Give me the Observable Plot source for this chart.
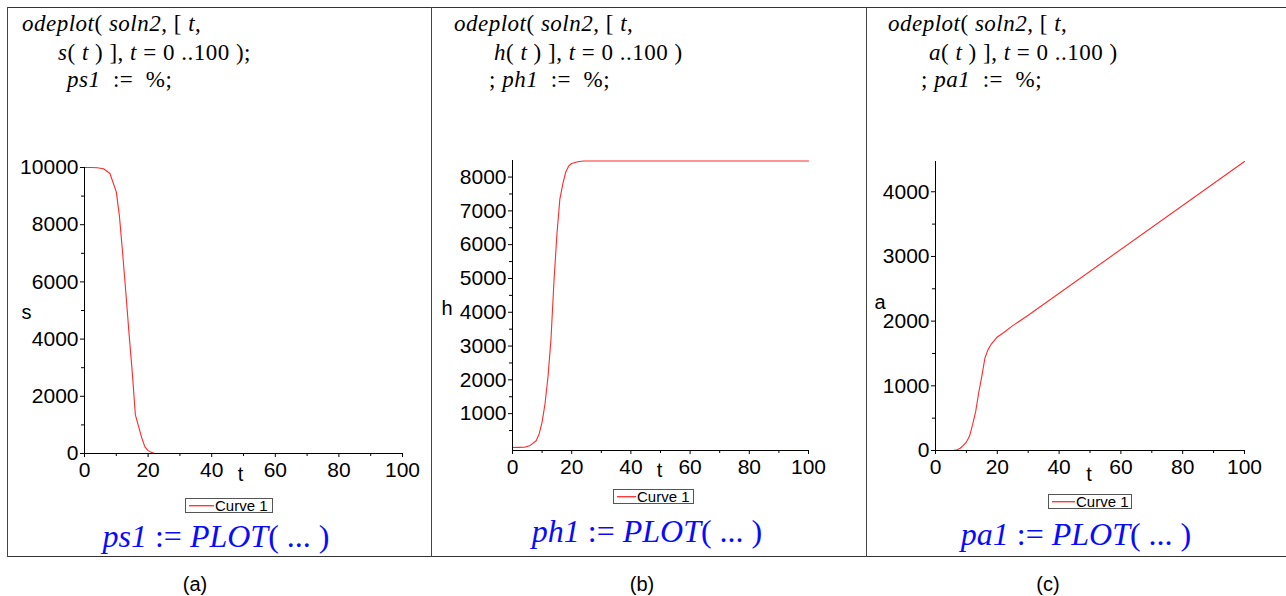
<!DOCTYPE html>
<html>
<head>
<meta charset="utf-8">
<script src="https://cdn.jsdelivr.net/npm/d3@7"></script>
<script src="https://cdn.jsdelivr.net/npm/@observablehq/plot@0.6"></script>
<style>
  html, body { margin: 0; padding: 0; background: #fff; }
  #fig { position: relative; width: 1286px; height: 596px; overflow: hidden; background: #fff;
         font-family: "Liberation Sans", Arial, sans-serif; color: #000; }
  .abs { position: absolute; }
  .hline { position: absolute; height: 0; border-top: 1.5px solid #333; }
  .vline { position: absolute; width: 0; border-left: 1.5px solid #444; }
  .code { position: absolute; font-family: "Liberation Serif", "Times New Roman", serif; font-size: 23px;
          line-height: 23px; white-space: pre; color: #000; letter-spacing: 0.5px; }
  .code i { font-style: italic; }
  .res { position: absolute; font-family: "Liberation Serif", "Times New Roman", serif; font-size: 32px;
         line-height: 32px; white-space: pre; color: #0a0aff; transform: translateX(-50%); }
  .res i { font-style: italic; }
  .leg { position: absolute; box-sizing: border-box; border: 1px solid #555; background: #fff;
         display: flex; align-items: center; font-size: 15px; line-height: 13px; padding-left: 3px;
         white-space: nowrap; overflow: visible; }
  .leg svg { flex: none; margin-right: 1px; display: block; }
  .cap { position: absolute; font-size: 20px; line-height: 20px; transform: translateX(-50%); }
</style>
</head>
<body>
<div id="fig"></div>
<script>
// ---------- data ----------
const tMajor = [0, 20, 40, 60, 80, 100];
const tMinor = [10, 30, 50, 70, 90];

// s(t)
const sT = [0, 2, 4, 6, 8, 10, 11, 12, 13, 14, 15, 16, 17, 18, 19, 20, 21, 22, 23, 24, 100];
const sV = [10000, 9998, 9990, 9955, 9790, 9150, 8280, 7000, 5630, 4200, 2870, 1350, 950, 550, 230, 100, 40, 10, 2, 0, 0];
const sTicks = [0, 2000, 4000, 6000, 8000, 10000];
const sMinor = [1000, 3000, 5000, 7000, 9000];

// h(t)
const hT = [0, 2, 4, 6, 8, 9, 10, 11, 12, 13, 14, 15, 16, 17, 18, 19, 20, 22, 24, 100];
const hV = [0, 2, 5, 60, 200, 400, 750, 1300, 2100, 3200, 4900, 6300, 7350, 7800, 8150, 8330, 8400, 8455, 8475, 8475];
const hTicks = [1000, 2000, 3000, 4000, 5000, 6000, 7000, 8000];
const hMinor = [500, 1500, 2500, 3500, 4500, 5500, 6500, 7500];

// a(t)
const aT = [0, 4, 6, 7, 8, 9, 10, 11, 12, 13, 14, 15, 16, 17, 18, 19, 20, 22, 25, 30, 100];
const aV = [0, 0, 3, 10, 35, 80, 130, 220, 400, 600, 900, 1150, 1430, 1560, 1640, 1700, 1755, 1820, 1930, 2090, 4468];
const aTicks = [0, 1000, 2000, 3000, 4000];
const aMinor = [500, 1500, 2500, 3500];

const legendLabel = "Curve 1";

// ---------- layout ----------
const fig = document.getElementById("fig");

function add(cls, style, html) {
  const d = document.createElement("div");
  d.className = cls;
  Object.assign(d.style, style);
  if (html != null) d.innerHTML = html;
  fig.appendChild(d);
  return d;
}

// frame lines
add("hline", {left: "7px", top: "7px", width: "1279px"});
add("hline", {left: "7px", top: "556px", width: "1279px"});
add("vline", {left: "7px", top: "7px", height: "550px"});
add("vline", {left: "431px", top: "7px", height: "550px"});
add("vline", {left: "866px", top: "7px", height: "550px"});

function panel(cfg) {
  const data = cfg.t.map((t, i) => ({t, v: cfg.v[i]}));
  const y0 = cfg.yDomain[0];
  const svg = Plot.plot({
    width: cfg.width, height: cfg.height,
    marginLeft: cfg.ml, marginRight: cfg.mr, marginTop: cfg.mt, marginBottom: cfg.mb,
    style: {fontFamily: "'Liberation Sans', Arial, sans-serif", fontSize: "21px", color: "#000",
            background: "transparent", overflow: "visible"},
    x: {domain: [0, 100]},
    y: {domain: cfg.yDomain},
    marks: [
      Plot.line(data, {x: "t", y: "v", stroke: "#ff2a2a", strokeWidth: 1.1}),
      Plot.ruleX([0], {stroke: "#000", strokeWidth: 1}),
      Plot.ruleY([y0], {stroke: "#000", strokeWidth: 1}),
      Plot.axisY({ticks: cfg.yTicks, tickSize: 4, tickPadding: 2, label: null, fontSize: 21, tickFormat: "d"}),
      Plot.axisY({ticks: cfg.yMinor, tickSize: 3, tickFormat: () => "", label: null}),
      Plot.axisX({ticks: tMajor, tickSize: 4, tickPadding: 5, label: null, fontSize: 21, tickFormat: "d"}),
      Plot.axisX({ticks: tMinor, tickSize: 3, tickFormat: () => "", label: null}),
      Plot.text([cfg.yLabel], {frameAnchor: "left", dx: cfg.ylDx, dy: cfg.ylDy, fontSize: 20}),
      Plot.text(["t"], {frameAnchor: "bottom", dx: cfg.tlDx, dy: cfg.tlDy, fontSize: 20})
    ]
  });
  const holder = add("abs", {left: cfg.left + "px", top: cfg.top + "px"});
  holder.appendChild(svg);
}

panel({t: sT, v: sV, yDomain: [0, 10000], yTicks: sTicks, yMinor: sMinor, yLabel: "s",
       left: 8, top: 140, width: 424, height: 360, ml: 76, mr: 30, mt: 27, mb: 47,
       ylDx: -63, ylDy: 2, tlDx: -3, tlDy: 27});
panel({t: hT, v: hV, yDomain: [-90, 8490], yTicks: hTicks, yMinor: hMinor, yLabel: "h",
       left: 432, top: 140, width: 435, height: 360, ml: 80, mr: 59, mt: 20, mb: 50,
       ylDx: -71, ylDy: 3, tlDx: -1, tlDy: 26});
panel({t: aT, v: aV, yDomain: [0, 4468], yTicks: aTicks, yMinor: aMinor, yLabel: "a",
       left: 867, top: 140, width: 419, height: 360, ml: 68, mr: 42, mt: 21, mb: 50,
       ylDx: -61, ylDy: -3, tlDx: -1, tlDy: 30});

// code lines
const codeLines = [
  [22, 12, "<i>odeplot</i>( <i>soln2</i>, [ <i>t</i>,"],
  [58, 41, "<i>s</i>( <i>t</i> ) ], <i>t</i> = 0 ..100 );"],
  [67, 68, "<i>ps1</i>  :=  %;"],
  [454, 12, "<i>odeplot</i>( <i>soln2</i>, [ <i>t</i>,"],
  [494, 41, "<i>h</i>( <i>t</i> ) ], <i>t</i> = 0 ..100 )"],
  [489, 68, "; <i>ph1</i>  :=  %;"],
  [888, 12, "<i>odeplot</i>( <i>soln2</i>, [ <i>t</i>,"],
  [929, 41, "<i>a</i>( <i>t</i> ) ], <i>t</i> = 0 ..100 )"],
  [921, 68, "; <i>pa1</i>  :=  %;"]
];
codeLines.forEach(([x, y, h]) => add("code", {left: x + "px", top: y + "px"}, h));

// results
add("res", {left: "216px", top: "520px"}, "<i>ps1</i> := <i>PLOT</i>( ... )");
add("res", {left: "647px", top: "515px"}, "<i>ph1</i> := <i>PLOT</i>( ... )");
add("res", {left: "1076px", top: "518px"}, "<i>pa1</i> := <i>PLOT</i>( ... )");

// legends
function legend(x, y, w, sw) {
  add("leg", {left: x + "px", top: y + "px", width: w + "px", height: "15px"},
    `<svg width="${sw}" height="3"><rect x="0" y="1" width="${sw}" height="1.4" fill="#ff3a3a"/></svg>${legendLabel}`);
}
legend(185, 498, 88, 25);
legend(613, 489, 81, 19);
legend(1048, 494, 84, 23);

// captions
add("cap", {left: "195px", top: "574px"}, "(a)");
add("cap", {left: "642px", top: "574px"}, "(b)");
add("cap", {left: "1048px", top: "574px"}, "(c)");
</script>
</body>
</html>
